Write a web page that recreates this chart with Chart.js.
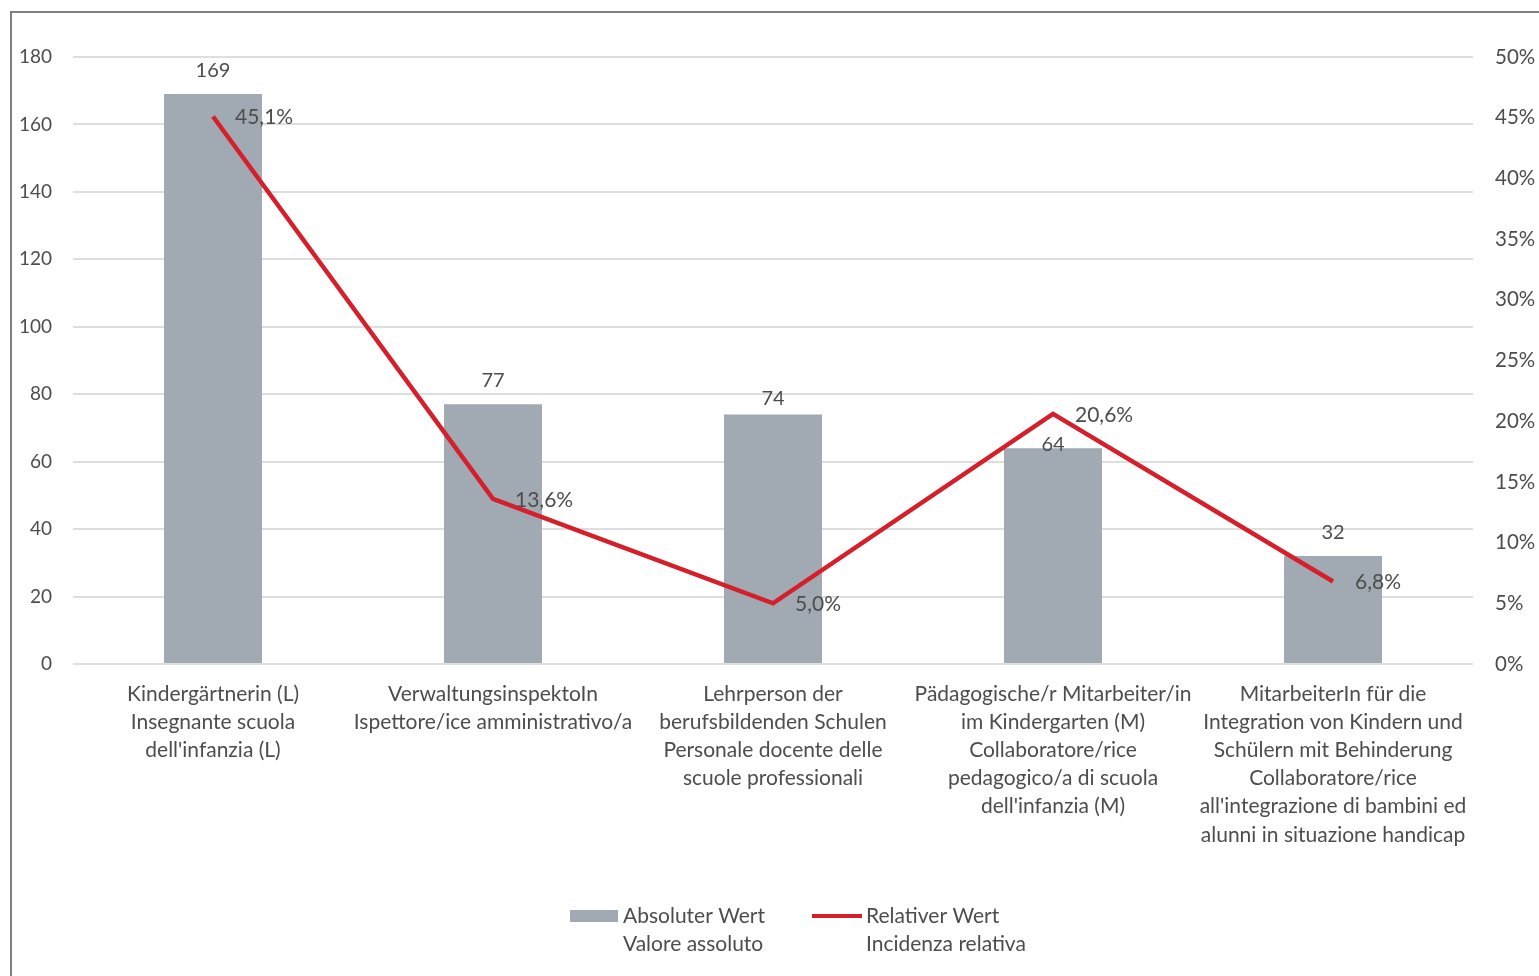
<!DOCTYPE html>
<html>
<head>
<meta charset="utf-8">
<script src="https://cdn.jsdelivr.net/npm/chart.js@4/dist/chart.umd.min.js"></script>
<style>
  html, body { margin: 0; padding: 0; background: #fff; overflow: hidden; }
  #wrap { position: relative; width: 1539px; height: 976px; }
  #frame { position: absolute; left: 10px; top: 11px; width: 1600px; height: 1100px;
           border: 2px solid #808080; box-sizing: border-box; }
  #c { position: absolute; left: 0; top: 0; }
</style>
</head>
<body>
<div id="wrap">
  <div id="frame"></div>
  <canvas id="c" width="1539" height="976"></canvas>
</div>
<script>
// Job profiles (German / Italian)
const categories = [
  ["Kindergärtnerin (L)", "Insegnante scuola", "dell'infanzia (L)"],
  ["VerwaltungsinspektoIn", "Ispettore/ice amministrativo/a"],
  ["Lehrperson der", "berufsbildenden Schulen", "Personale docente delle", "scuole professionali"],
  ["Pädagogische/r Mitarbeiter/in", "im Kindergarten (M)", "Collaboratore/rice", "pedagogico/a di scuola", "dell'infanzia (M)"],
  ["MitarbeiterIn für die", "Integration von Kindern und", "Schülern mit Behinderung", "Collaboratore/rice", "all'integrazione di bambini ed", "alunni in situazione handicap"]
];
// Absolute count per profile
const absoluteValues = [169, 77, 74, 64, 32];
// Relative incidence per profile, in percent
const relativeValues = [45.1, 13.6, 5.0, 20.6, 6.8];
// Axis ticks
const leftTicks = [0, 20, 40, 60, 80, 100, 120, 140, 160, 180];
const rightTicks = [0, 5, 10, 15, 20, 25, 30, 35, 40, 45, 50];

const legendLabels = [
  ["Absoluter Wert", "Valore assoluto"],
  ["Relativer Wert", "Incidenza relativa"]
];

const FONT = "Lato, 'Liberation Sans', sans-serif";
const TEXT = "#4d4d4d";
const BAR = "#a1a9b3";
const RED = "#d5202b";
const GRID = "#dedede";

const fmtPct = v => v.toFixed(1).replace('.', ',') + '%';

// Value labels over bars and beside line points
const valueLabels = {
  id: 'valueLabels',
  afterDatasetsDraw(chart, args, opts) {
    const ctx = chart.ctx;
    ctx.save();
    ctx.fillStyle = TEXT;
    ctx.textBaseline = 'middle';
    ctx.textAlign = 'center';
    ctx.font = "20px " + FONT;
    chart.getDatasetMeta(1).data.forEach((bar, i) => {
      ctx.fillText(String(absoluteValues[i]), bar.x, bar.y - 24 + (opts.barNudge[i] || 0));
    });
    ctx.textAlign = 'left';
    ctx.font = "21px " + FONT;
    chart.getDatasetMeta(0).data.forEach((pt, i) => {
      ctx.fillText(fmtPct(relativeValues[i]), pt.x + 22, pt.y + 1);
    });
    ctx.restore();
  }
};

// Two-line legend under the axis labels
const twoLineLegend = {
  id: 'twoLineLegend',
  afterDraw(chart) {
    const ctx = chart.ctx;
    const ds = chart.data.datasets;
    ctx.save();
    ctx.font = "21px " + FONT;
    ctx.textBaseline = 'middle';
    ctx.textAlign = 'left';
    const y0 = 916, lh = 28;
    // bar swatch
    ctx.fillStyle = ds[1].backgroundColor;
    ctx.fillRect(570, y0 - 6, 48, 12);
    ctx.fillStyle = TEXT;
    legendLabels[0].forEach((t, k) => ctx.fillText(t, 623, y0 + k * lh));
    // line swatch
    ctx.strokeStyle = ds[0].borderColor;
    ctx.lineWidth = 4;
    ctx.beginPath();
    ctx.moveTo(812, y0);
    ctx.lineTo(862, y0);
    ctx.stroke();
    legendLabels[1].forEach((t, k) => ctx.fillText(t, 866, y0 + k * lh));
    ctx.restore();
  }
};

new Chart(document.getElementById('c'), {
  data: {
    labels: categories,
    datasets: [
      {
        type: 'line',
        label: 'Relativer Wert',
        data: relativeValues,
        yAxisID: 'yRight',
        borderColor: RED,
        borderWidth: 4.5,
        pointRadius: 0,
        tension: 0,
        order: 0
      },
      {
        type: 'bar',
        label: 'Absoluter Wert',
        data: absoluteValues,
        yAxisID: 'yLeft',
        backgroundColor: BAR,
        categoryPercentage: 1,
        barPercentage: 0.35,
        order: 1
      }
    ]
  },
  options: {
    responsive: false,
    animation: false,
    layout: { padding: { top: 57, left: 0, right: 0, bottom: 0 } },
    plugins: {
      legend: { display: false },
      tooltip: { enabled: false },
      valueLabels: { barNudge: [0, 0, 8, 20, 0] }
    },
    scales: {
      x: {
        grid: { display: false, drawTicks: false },
        border: { display: false },
        ticks: { color: TEXT, font: { family: FONT, size: 21, lineHeight: 1.34 }, padding: 16, maxRotation: 0, autoSkip: false },
        afterFit(s) { s.height = 312; }
      },
      yLeft: {
        position: 'left',
        min: 0, max: 180,
        afterBuildTicks(s) { s.ticks = leftTicks.map(v => ({ value: v })); },
        grid: { color: GRID, lineWidth: 2, drawTicks: false },
        border: { display: false },
        ticks: { color: TEXT, font: { family: FONT, size: 19 }, padding: 21 },
        afterFit(s) { s.width = 73; }
      },
      yRight: {
        position: 'right',
        min: 0, max: 50,
        afterBuildTicks(s) { s.ticks = rightTicks.map(v => ({ value: v })); },
        grid: { display: false, drawTicks: false },
        border: { display: false },
        ticks: { color: TEXT, font: { family: FONT, size: 20.5 }, padding: 22, callback: v => v + '%' },
        afterFit(s) { s.width = 66; }
      }
    }
  },
  plugins: [valueLabels, twoLineLegend]
});
</script>
</body>
</html>
